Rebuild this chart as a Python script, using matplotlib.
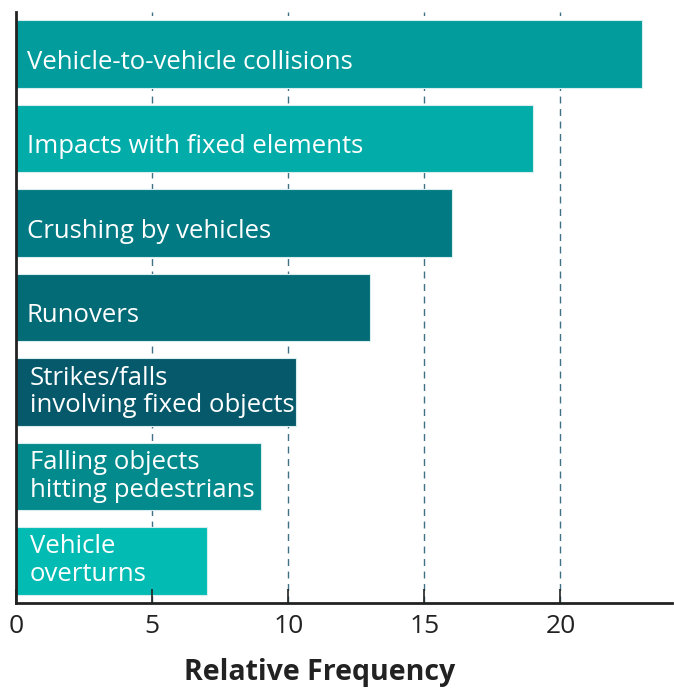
import matplotlib.pyplot as plt

# data
categories = ["Vehicle-to-vehicle collisions", "Impacts with fixed elements",
              "Crushing by vehicles", "Runovers",
              "Strikes/falls\ninvolving fixed objects",
              "Falling objects\nhitting pedestrians", "Vehicle\noverturns"]
values = [23, 19, 16, 13, 10.3, 9, 7]
colors = ["#029c9c", "#02aca9", "#027a83", "#036b76", "#06596a", "#028a8c", "#02bcb4"]
xticks = [0, 5, 10, 15, 20]

fig = plt.figure(figsize=(6.74, 6.89), dpi=100)
ax = fig.add_axes([16 / 674, 1 - 603 / 689, 656 / 674, 591 / 689])

y = list(range(len(categories)))
ax.barh(y, values, height=0.8, color=colors, edgecolor="#d8eeee",
        linewidth=0.8, zorder=1)

for i, lab in enumerate(categories):
    if "\n" in lab:
        ax.text(0.5, i, lab, va="center", ha="left", color="white",
                fontsize=18.5, family="Open Sans", linespacing=1.15, zorder=3)
    else:
        ax.text(0.4, i + 0.06, lab, va="center_baseline", ha="left", color="white",
                fontsize=18.5, family="Open Sans", zorder=3)

for xv in xticks[1:]:
    ax.axvline(xv, color="#3f7086", linestyle=(0, (5, 4)), linewidth=1.0, zorder=0.5)

ax.set_xlim(0, 24.1)
ax.set_ylim(6.5, -0.5)
ax.set_yticks([])
ax.set_xticks(xticks)
ax.tick_params(axis="x", direction="in", length=10, width=1.2, labelsize=19,
               pad=8, colors="#222222")
for lbl in ax.get_xticklabels():
    lbl.set_family("Open Sans")

for s in ["top", "right"]:
    ax.spines[s].set_visible(False)
ax.spines["left"].set_linewidth(2)
ax.spines["bottom"].set_linewidth(2)
ax.spines["left"].set_color("#222222")
ax.spines["bottom"].set_color("#222222")

ax.set_xlabel("Relative Frequency", fontsize=20.5, fontweight="bold",
              family="Open Sans", color="#222222")
ax.xaxis.set_label_coords((320 - 16) / 656, -0.093)

fig.savefig("out.png", dpi=100)
